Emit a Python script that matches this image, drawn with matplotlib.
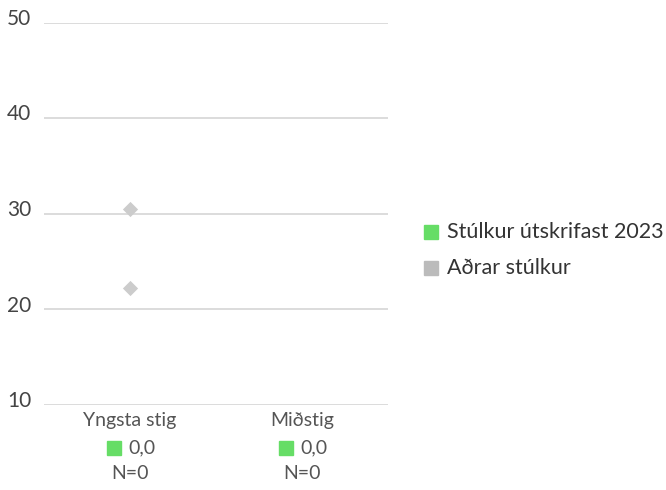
import matplotlib
matplotlib.use("Agg")
import matplotlib.pyplot as plt
from matplotlib.patches import Rectangle
from matplotlib.transforms import offset_copy

categories = ["Yngsta stig", "Miðstig"]
others_values = [[30.5, 22.2], []]
green_values = ["0,0", "0,0"]
n_values = ["N=0", "N=0"]
legend_labels = ["Stúlkur útskrifast 2023", "Aðrar stúlkur"]
yticks = [10, 20, 30, 40, 50]

GREEN = "#66dd66"
GRAY_LEG = "#bbbbbb"
DIAMOND = "#cccccc"
TEXT = "#555555"

plt.rcParams["font.family"] = ["Lato", "DejaVu Sans"]

fig = plt.figure(figsize=(6.66, 4.90), dpi=100)
ax = fig.add_axes([44/666, 1-405/490, (388-44)/666, (405-23)/490])
ax.set_xlim(-0.5, 1.5)
ax.set_ylim(10, 50)
for y in yticks:
    ax.axhline(y, color="#d9d9d9", lw=1.3, zorder=0)
for s in ax.spines.values():
    s.set_visible(False)
ax.set_xticks([])
ax.set_yticks(yticks)
ax.set_yticklabels([])
ax.tick_params(axis="y", length=0)
ytrans = offset_copy(ax.get_yaxis_transform(), fig=fig, x=0, y=-2, units="dots")
for y in yticks:
    ax.text(-37/344, y, str(y), transform=ytrans, ha="left", va="baseline", fontsize=15, color="#444444")

for i, vals in enumerate(others_values):
    if vals:
        ax.scatter([i]*len(vals), vals, marker="D", s=60, color=DIAMOND, zorder=3, linewidths=0)

trans = ax.get_xaxis_transform()
for i, cat in enumerate(categories):
    ax.text(i, -15/382, cat, transform=trans, ha="center", va="center", fontsize=14, color=TEXT)
    cx = 44 + 344*(i + 0.5)/2
    fig.patches.append(Rectangle(((cx-23)/666, 1-(448+7)/490), 14/666, 14/490, transform=fig.transFigure,
                                 color=GREEN, figure=fig))
    fig.text((cx-2)/666, 1-448/490, green_values[i], ha="left", va="center", fontsize=14, color=TEXT)
    ax.text(i, -68/382, n_values[i], transform=trans, ha="center", va="center", fontsize=14, color=TEXT)

# legend
leg_colors = [GREEN, GRAY_LEG]
leg_y = [232, 268]
for lab, c, y in zip(legend_labels, leg_colors, leg_y):
    fig.patches.append(Rectangle((424/666, 1-(y+7)/490), 14/666, 14/490, transform=fig.transFigure,
                                 color=c, figure=fig))
    fig.text(447/666, 1-y/490, lab, ha="left", va="center", fontsize=15.5, color="#333333")

fig.savefig("out.png", dpi=100)
